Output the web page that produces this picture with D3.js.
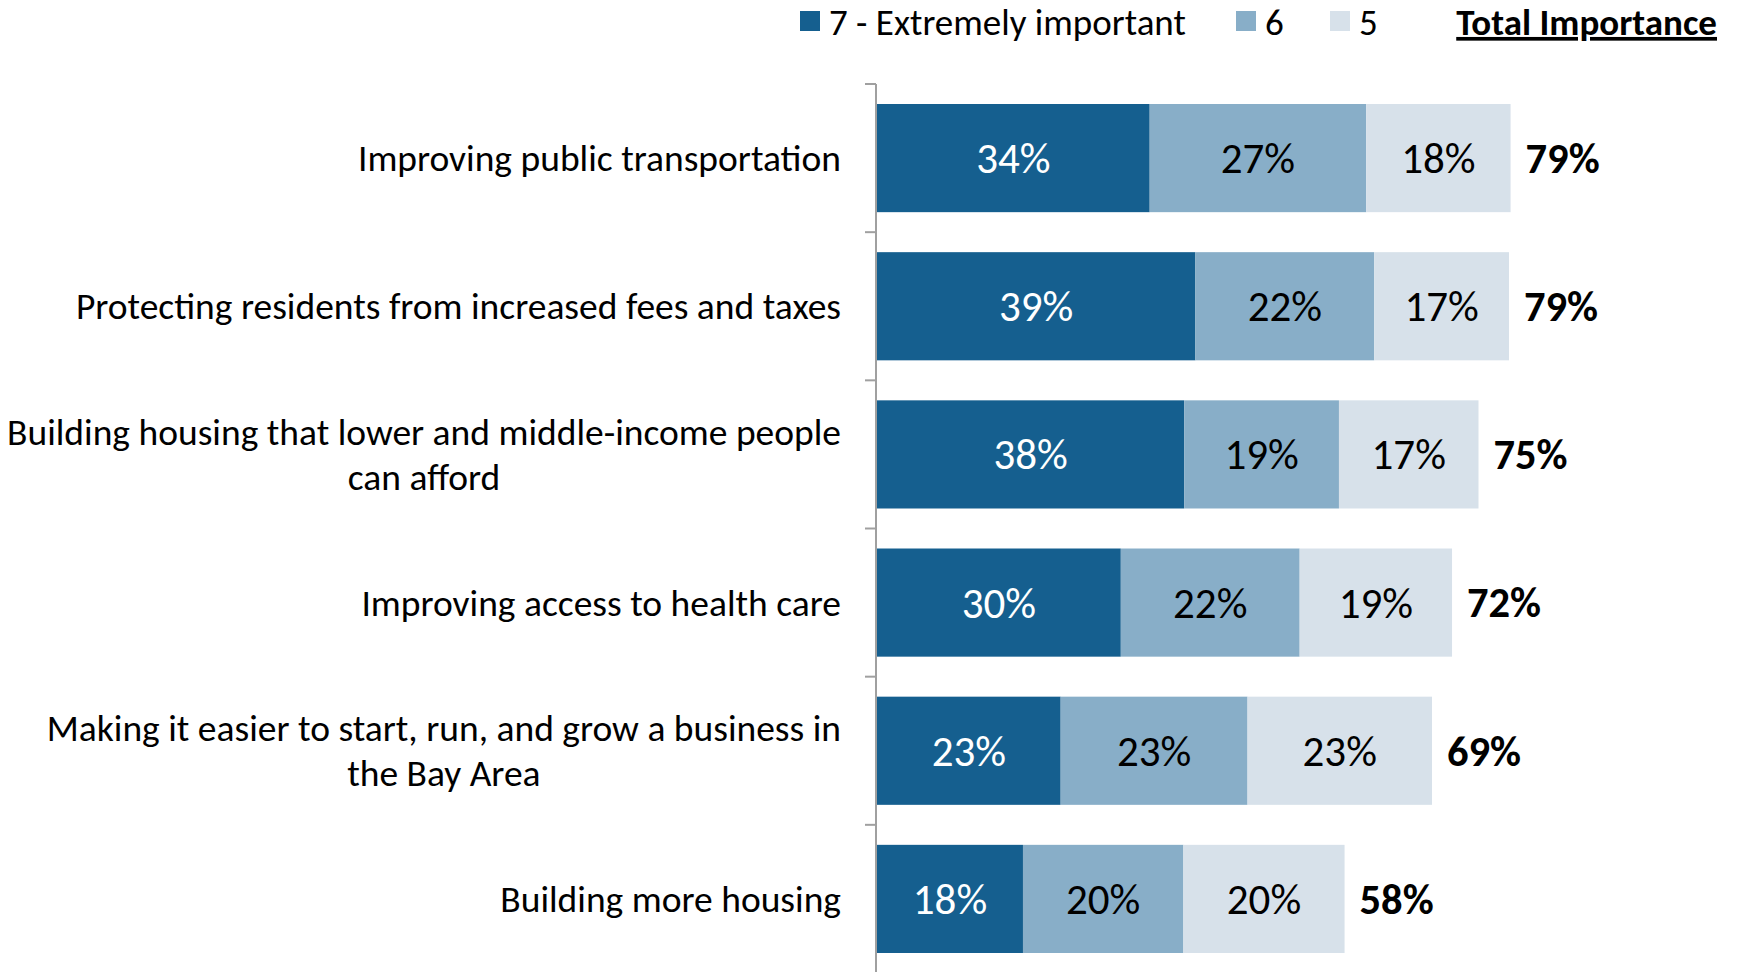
<!DOCTYPE html>
<html>
<head>
<meta charset="utf-8">
<script src="https://cdn.jsdelivr.net/npm/d3@7"></script>
<style>
  html, body { margin: 0; padding: 0; background: #fff; }
  svg { display: block; font-family: Carlito, Calibri, Lato, "Open Sans", sans-serif; }
</style>
</head>
<body>
<svg id="chart" width="1738" height="972"></svg>
<script>
// ---- data ----
const categories = [
  ["Improving public transportation"],
  ["Protecting residents from increased fees and taxes"],
  ["Building housing that lower and middle-income people", "can afford"],
  ["Improving access to health care"],
  ["Making it easier to start, run, and grow a business in", "the Bay Area"],
  ["Building more housing"]
];
const seriesNames = ["7 - Extremely important", "6", "5"];
const seriesColors = ["#155f8f", "#88aec8", "#d7e1ea"];
const labelColors = ["#ffffff", "#000000", "#000000"];
// values
const extremely = [34, 39.7, 38.3, 30.4, 22.9, 18.2];
const six       = [27, 22.3, 19.3, 22.3, 23.3, 20.0];
const five      = [18, 16.8, 17.4, 19.0, 23.0, 20.1];
// printed labels
const extremelyLabels = ["34%", "39%", "38%", "30%", "23%", "18%"];
const sixLabels       = ["27%", "22%", "19%", "22%", "23%", "20%"];
const fiveLabels      = ["18%", "17%", "17%", "19%", "23%", "20%"];
const totalLabels     = ["79%", "79%", "75%", "72%", "69%", "58%"];
const totalTitle = "Total Importance";

// ---- layout ----
const svg = d3.select("#chart");
const axisX = 876;
const keys = categories.map(c => c.join(" "));
const x = d3.scaleLinear().domain([0, 100]).range([axisX + 1, axisX + 1 + 802]);
const y = d3.scaleBand().domain(keys).range([84, 973]).paddingInner(0.27).paddingOuter(0.135);

const seriesVals = [extremely, six, five];
const seriesLabels = [extremelyLabels, sixLabels, fiveLabels];

const rows = keys.map((k, i) => {
  let acc = 0;
  const segs = seriesVals.map((vals, s) => {
    const seg = { key: k, s, x0: acc, x1: acc + vals[i], label: seriesLabels[s][i] };
    acc += vals[i];
    return seg;
  });
  return { key: k, lines: categories[i], segs, total: acc, totalLabel: totalLabels[i] };
});

// axis line and ticks at band boundaries
const step = y.step();
const y0 = y.range()[0];
svg.append("line")
  .attr("x1", axisX).attr("x2", axisX)
  .attr("y1", y0).attr("y2", y0 + step * keys.length)
  .attr("stroke", "#a0a0a0").attr("stroke-width", 2);
d3.range(keys.length + 1).forEach(i => {
  svg.append("line")
    .attr("x1", axisX - 11).attr("x2", axisX)
    .attr("y1", y0 + i * step).attr("y2", y0 + i * step)
    .attr("stroke", "#a0a0a0").attr("stroke-width", 2);
});

// bars
const rowG = svg.selectAll("g.row").data(rows).join("g").attr("class", "row");
rowG.selectAll("rect").data(d => d.segs).join("rect")
  .attr("x", d => x(d.x0))
  .attr("width", d => x(d.x1) - x(d.x0))
  .attr("y", d => y(d.key))
  .attr("height", y.bandwidth())
  .attr("fill", d => seriesColors[d.s]);

rowG.selectAll("text.seg").data(d => d.segs).join("text")
  .attr("class", "seg")
  .attr("x", d => (x(d.x0) + x(d.x1)) / 2)
  .attr("y", d => y(d.key) + y.bandwidth() / 2)
  .attr("dy", "0.35em")
  .attr("text-anchor", "middle")
  .attr("font-size", 43)
  .attr("fill", d => labelColors[d.s])
  .text(d => d.label);

rowG.append("text")
  .attr("x", d => x(d.total) + 15)
  .attr("y", d => y(d.key) + y.bandwidth() / 2)
  .attr("dy", "0.35em")
  .attr("font-size", 42.5)
  .attr("font-weight", "bold")
  .attr("fill", "#000")
  .text(d => d.totalLabel);

// category labels (block right-aligned, lines centred within block)
const labelRight = 841;
const lineH = 45;
rows.forEach(r => {
  const g = svg.append("g");
  const cy = y(r.key) + y.bandwidth() / 2;
  const texts = r.lines.map((ln, j) => g.append("text")
    .attr("y", cy + (j - (r.lines.length - 1) / 2) * lineH)
    .attr("dy", "0.35em")
    .attr("font-size", 37.5)
    .attr("fill", "#000")
    .attr("text-anchor", "middle")
    .text(ln));
  const w = d3.max(texts, t => t.node().getComputedTextLength());
  texts.forEach(t => t.attr("x", labelRight - w / 2));
});

// legend
const legendItems = [
  { name: seriesNames[0], color: seriesColors[0], x: 800 },
  { name: seriesNames[1], color: seriesColors[1], x: 1236 },
  { name: seriesNames[2], color: seriesColors[2], x: 1330 }
];
const lg = svg.append("g");
legendItems.forEach(it => {
  lg.append("rect").attr("x", it.x).attr("y", 11).attr("width", 20).attr("height", 20).attr("fill", it.color);
  lg.append("text").attr("x", it.x + 29).attr("y", 22).attr("dy", "0.35em")
    .attr("font-size", 37).attr("fill", "#000").text(it.name);
});
lg.append("text").attr("x", 1717).attr("y", 22).attr("dy", "0.35em")
  .attr("text-anchor", "end").attr("font-size", 37).attr("font-weight", "bold")
  .attr("text-decoration", "underline").attr("fill", "#000").text(totalTitle);
</script>
</body>
</html>
